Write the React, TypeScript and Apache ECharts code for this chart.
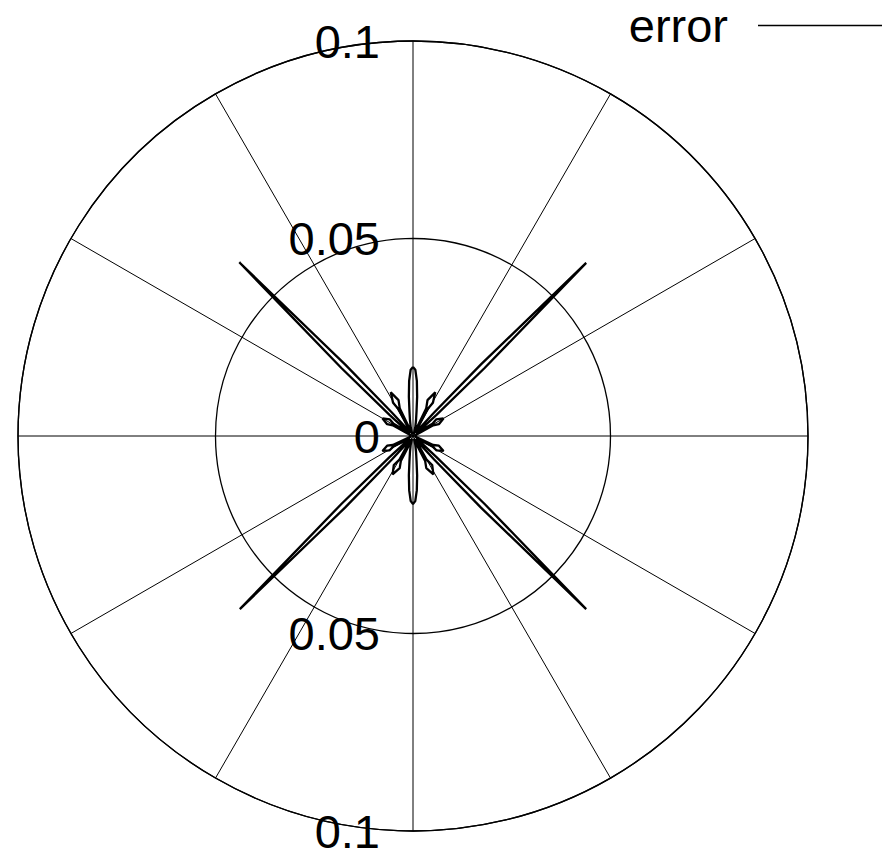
import { useEffect, useRef } from "react";
import * as echarts from "echarts";

// Polar error pattern: angle (degrees, clockwise from top) and error magnitude
const theta = [
  0, 2, 4, 6, 8, 11, 15, 19,
  21, 25.5, 22, 27, 31, 28.5, 32,
  36, 42, 43.5, 45, 46.5, 48,
  52, 58, 54.5, 60, 65.5, 62, 68,
  90,
  108, 114, 110.5, 116, 121.5, 118, 124,
  128, 132, 133.5, 135, 136.5, 138,
  144, 150, 146.5, 152, 157.5, 154, 160,
  161, 165, 169, 172, 174, 176, 178, 180, 182, 184, 186, 188, 191, 195, 199,
  200, 206, 202.5, 208, 213.5, 210, 216,
  222, 223.5, 225, 226.5, 228, 232,
  236, 242, 238.5, 244, 249.5, 246, 252,
  270,
  292, 298, 294.5, 300, 305.5, 302, 308,
  312, 313.5, 315, 316.5, 318, 324,
  328, 331.5, 329, 333, 338, 334.5, 339,
  341, 345, 349, 352, 354, 356, 358, 360,
];
const err = [
  0.0175, 0.0168, 0.014, 0.01, 0.0065, 0.004, 0.0022, 0.0008,
  0.0004, 0.0078, 0.0098, 0.0124, 0.0098, 0.0078, 0.0015,
  0.001, 0.008, 0.025, 0.062, 0.025, 0.008,
  0.0012, 0.0058, 0.0072, 0.0089, 0.0072, 0.0058, 0.001,
  0.0005,
  0.001, 0.0056, 0.007, 0.0086, 0.007, 0.0056, 0.001,
  0.001, 0.008, 0.025, 0.062, 0.025, 0.008,
  0.001, 0.007, 0.0088, 0.011, 0.0088, 0.007, 0.0015,
  0.0008, 0.0022, 0.004, 0.0065, 0.01, 0.0138, 0.0165, 0.0172, 0.0165, 0.0138, 0.01, 0.0065, 0.004, 0.0022, 0.0008,
  0.0015, 0.007, 0.0088, 0.011, 0.0088, 0.007, 0.001,
  0.008, 0.025, 0.062, 0.025, 0.008, 0.001,
  0.001, 0.0056, 0.007, 0.0086, 0.007, 0.0056, 0.001,
  0.0005,
  0.001, 0.0058, 0.0072, 0.0089, 0.0072, 0.0058, 0.0012,
  0.008, 0.025, 0.0622, 0.025, 0.008, 0.001,
  0.0015, 0.0078, 0.0098, 0.0124, 0.0098, 0.0078, 0.0004,
  0.0008, 0.0022, 0.004, 0.0065, 0.01, 0.014, 0.0168, 0.0175,
];

const seriesName = "error";
const radiusTicks = [0, 0.05, 0.1];
const radiusLabels = ["0", "0.05", "0.1"];
const lowerRadiusLabels = ["", "0.05", "0.1"];

const FONT = "'Liberation Sans', Arial, Helvetica, sans-serif";
const CENTER = [413, 436];
const RADIUS = 395;

export default function App() {
  const ref = useRef<HTMLDivElement>(null);

  useEffect(() => {
    const chart = echarts.init(ref.current!, null, { renderer: "svg" });
    const labelFor = (labels: string[]) => (v: number) => {
      const i = radiusTicks.findIndex((t) => Math.abs(t - v) < 1e-9);
      return i >= 0 ? labels[i] : "";
    };
    chart.setOption({
      animation: false,
      backgroundColor: "#fff",
      textStyle: { fontFamily: FONT },
      legend: {
        data: [{ name: seriesName, icon: "rect" }],
        right: 11,
        top: 2,
        padding: 0,
        align: "right",
        itemWidth: 124,
        itemHeight: 1.4,
        itemStyle: { color: "#000" },
        textStyle: {
          fontSize: 47,
          lineHeight: 46,
          color: "#000",
          fontFamily: FONT,
          padding: [0, 25, 0, 0],
        },
      },
      polar: [
        { center: CENTER, radius: RADIUS },
        { center: CENTER, radius: RADIUS },
      ],
      angleAxis: [
        {
          polarIndex: 0,
          type: "value",
          min: 0,
          max: 360,
          interval: 30,
          startAngle: 90,
          clockwise: true,
          axisLine: { show: true, lineStyle: { color: "#000", width: 1.3 } },
          axisTick: { show: false },
          axisLabel: { show: false },
          splitLine: { show: true, lineStyle: { color: "#000", width: 1 } },
        },
        {
          polarIndex: 1,
          type: "value",
          min: 0,
          max: 360,
          interval: 30,
          startAngle: 270,
          axisLine: { show: false },
          axisTick: { show: false },
          axisLabel: { show: false },
          splitLine: { show: false },
        },
      ],
      radiusAxis: [
        {
          polarIndex: 0,
          type: "value",
          min: 0,
          max: 0.1,
          interval: 0.05,
          axisLine: { show: false },
          axisTick: { show: false },
          axisLabel: {
            margin: 33,
            fontSize: 47,
            color: "#000",
            fontFamily: FONT,
            formatter: labelFor(radiusLabels),
          },
          splitLine: { show: true, lineStyle: { color: "#000", width: 1.3 } },
        },
        {
          polarIndex: 1,
          type: "value",
          min: 0,
          max: 0.1,
          interval: 0.05,
          axisLine: { show: false },
          axisTick: { show: false },
          axisLabel: {
            margin: -33,
            align: "right",
            fontSize: 47,
            color: "#000",
            fontFamily: FONT,
            formatter: labelFor(lowerRadiusLabels),
          },
          splitLine: { show: false },
        },
      ],
      series: [
        {
          name: seriesName,
          type: "line",
          coordinateSystem: "polar",
          polarIndex: 0,
          symbol: "none",
          smooth: false,
          lineStyle: { color: "#000", width: 2.3 },
          itemStyle: { color: "#000" },
          data: theta.map((a, i) => [err[i], a]),
        },
      ],
    });
    return () => chart.dispose();
  }, []);

  return (
    <div
      ref={ref}
      style={{ position: "absolute", left: 0, top: 0, width: 893, height: 858 }}
    />
  );
}
